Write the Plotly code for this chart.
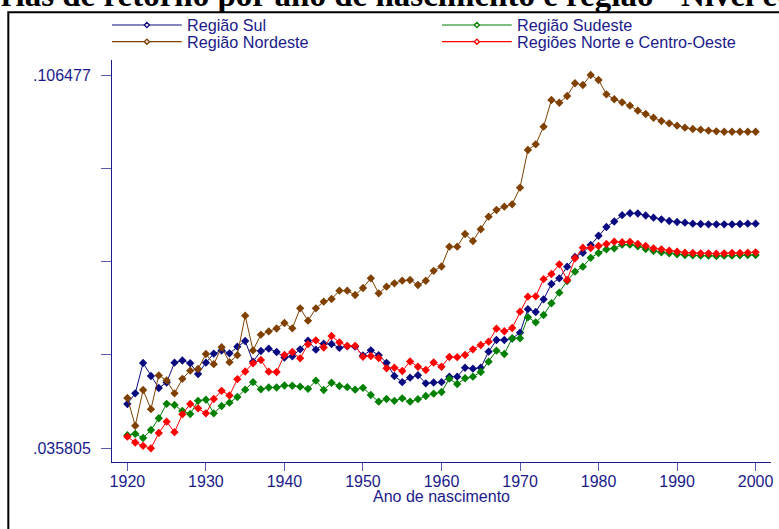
import plotly.graph_objects as go

# Birth cohorts and estimated returns by region
anos = list(range(1920, 2001))

sul = [0.04419, 0.04622, 0.05195, 0.04949, 0.04722, 0.04826, 0.05201, 0.05243, 0.05190, 0.04987,
       0.05201, 0.05372, 0.05432, 0.05379, 0.05504, 0.05612, 0.05220, 0.05423, 0.05466, 0.05404,
       0.05300, 0.05322, 0.05455, 0.05618, 0.05447, 0.05561, 0.05555, 0.05483, 0.05512, 0.05504,
       0.05337, 0.05436, 0.05343, 0.05199, 0.04949, 0.04832, 0.04917, 0.04964, 0.04811, 0.04826,
       0.04832, 0.04936, 0.04936, 0.05106, 0.05088, 0.05106, 0.05409, 0.05631, 0.05631, 0.05659,
       0.05769, 0.06214, 0.06161, 0.06401, 0.06691, 0.06799, 0.07019, 0.07202, 0.07282, 0.07429,
       0.07605, 0.07770, 0.07874, 0.07994, 0.08030, 0.08026, 0.07988, 0.07946, 0.07916, 0.07884,
       0.07865, 0.07852, 0.07833, 0.07827, 0.07821, 0.07821, 0.07821, 0.07821, 0.07827, 0.07833,
       0.07833]

sudeste = [0.03829, 0.03855, 0.03776, 0.03927, 0.04149, 0.04423, 0.04400, 0.04287, 0.04230, 0.04480,
           0.04501, 0.04243, 0.04381, 0.04444, 0.04552, 0.04690, 0.04832, 0.04698, 0.04732, 0.04732,
           0.04769, 0.04764, 0.04747, 0.04707, 0.04860, 0.04684, 0.04822, 0.04760, 0.04737, 0.04690,
           0.04726, 0.04590, 0.04463, 0.04514, 0.04480, 0.04527, 0.04463, 0.04510, 0.04571, 0.04614,
           0.04646, 0.04898, 0.04798, 0.04906, 0.04936, 0.05025, 0.05220, 0.05428, 0.05366, 0.05663,
           0.05663, 0.06061, 0.05966, 0.06104, 0.06326, 0.06526, 0.06748, 0.06924, 0.07019, 0.07187,
           0.07278, 0.07348, 0.07367, 0.07435, 0.07435, 0.07405, 0.07354, 0.07316, 0.07291, 0.07272,
           0.07253, 0.07240, 0.07234, 0.07227, 0.07227, 0.07221, 0.07227, 0.07227, 0.07234, 0.07240,
           0.07240]

nordeste = [0.04533, 0.04008, 0.04684, 0.04321, 0.04961, 0.04866, 0.04622, 0.04896, 0.05050, 0.05082,
            0.05366, 0.05173, 0.05493, 0.05211, 0.05343, 0.06091, 0.05434, 0.05731, 0.05794, 0.05849,
            0.05953, 0.05852, 0.06231, 0.05996, 0.06231, 0.06356, 0.06407, 0.06564, 0.06564, 0.06483,
            0.06615, 0.06799, 0.06515, 0.06640, 0.06704, 0.06754, 0.06767, 0.06672, 0.06752, 0.06941,
            0.07022, 0.07397, 0.07397, 0.07638, 0.07505, 0.07727, 0.07965, 0.08092, 0.08155, 0.08200,
            0.08514, 0.09228, 0.09336, 0.09669, 0.10175, 0.10123, 0.10250, 0.10491, 0.10459, 0.106477,
            0.10553, 0.10282, 0.10188, 0.10131, 0.10067, 0.09972, 0.09910, 0.09839, 0.09777, 0.09733,
            0.09688, 0.09650, 0.09626, 0.09612, 0.09593, 0.09582, 0.09574, 0.09574, 0.09574, 0.09574,
            0.09574]

norte_co = [0.03800, 0.03690, 0.03628, 0.035805, 0.03870, 0.04084, 0.03885, 0.04224, 0.04419, 0.04338,
            0.04243, 0.04514, 0.04669, 0.04580, 0.04889, 0.05035, 0.05190, 0.05252, 0.05031, 0.05025,
            0.05347, 0.05404, 0.05284, 0.05551, 0.05625, 0.05489, 0.05707, 0.05587, 0.05517, 0.05521,
            0.05313, 0.05328, 0.05290, 0.05095, 0.05106, 0.05044, 0.05224, 0.05125, 0.05063, 0.05205,
            0.05125, 0.05309, 0.05305, 0.05347, 0.05455, 0.05536, 0.05599, 0.05845, 0.05796, 0.05858,
            0.06167, 0.06451, 0.06458, 0.06782, 0.06880, 0.07064, 0.06767, 0.07178, 0.07378, 0.07373,
            0.07411, 0.07448, 0.07492, 0.07481, 0.07490, 0.07452, 0.07411, 0.07367, 0.07348, 0.07322,
            0.07303, 0.07284, 0.07278, 0.07272, 0.07272, 0.07265, 0.07272, 0.07278, 0.07278, 0.07284,
            0.07291]

series_names = ["Região Sul", "Região Sudeste", "Região Nordeste", "Regiões Norte e Centro-Oeste"]
series_values = [sul, sudeste, nordeste, norte_co]
series_colors = ["#0a0a80", "#008000", "#7f4000", "#ff0000"]

y_min, y_max = 0.035805, 0.106477
y_ticks = [y_min + i * (y_max - y_min) / 4 for i in range(5)]
y_ticktext = [".035805", "", "", "", ".106477"]
x_ticks = list(range(1920, 2001, 10))

title_text = "Trajetórias de retorno por ano de nascimento e região - Nível educacional"
x_title = "Ano de nascimento"

NAVY = "#1a1a8a"
W, H = 779, 529
ML, MR, MT, MB = 112, 6, 60, 67
PW, PH = W - ML - MR, H - MT - MB


def px_x(p):
    return (p - ML) / PW


def px_y(p):
    return (H - MB - p) / PH


fig = go.Figure()
for name, vals, col in zip(series_names, series_values, series_colors):
    fig.add_trace(go.Scatter(
        x=anos, y=vals, name=name, mode="lines+markers",
        line=dict(color=col, width=1),
        marker=dict(symbol="diamond", size=6.4, color=col, line=dict(width=0)),
        showlegend=False,
    ))

shapes = []
annotations = []

# outer frame of the graph region
shapes.append(dict(type="rect", xref="paper", yref="paper",
                   x0=px_x(8), x1=px_x(800), y0=px_y(560), y1=px_y(12.3),
                   line=dict(color="black", width=2), fillcolor="rgba(0,0,0,0)"))

# two-column key: (x of sample start, row y)
key_pos = [(112, 25), (443, 25), (112, 41.7), (443, 41.7)]
for (kx, ky), name, col in zip(key_pos, series_names, series_colors):
    shapes.append(dict(type="line", xref="paper", yref="paper",
                       x0=px_x(kx), x1=px_x(kx + 70), y0=px_y(ky), y1=px_y(ky),
                       line=dict(color=col, width=1.2)))
    cx, r = kx + 35, 2.6
    path = (f"M {px_x(cx - r)} {px_y(ky)} L {px_x(cx)} {px_y(ky - r)} "
            f"L {px_x(cx + r)} {px_y(ky)} L {px_x(cx)} {px_y(ky + r)} Z")
    shapes.append(dict(type="path", xref="paper", yref="paper", path=path,
                       line=dict(color=col, width=1.3), fillcolor="#f0e8e0"))
    annotations.append(dict(xref="paper", yref="paper", x=px_x(kx + 73), y=px_y(ky),
                            xanchor="left", yanchor="middle", showarrow=False,
                            text=name, font=dict(family="Liberation Sans", size=16.2, color=NAVY)))

annotations.append(dict(xref="paper", yref="paper", x=px_x(-106), y=px_y(15.5),
                        xanchor="left", yanchor="bottom", showarrow=False,
                        text=f"<b>{title_text}</b>",
                        font=dict(family="Liberation Serif", size=33, color="black")))

annotations.append(dict(xref="x", yref="paper", x=1960, y=px_y(496.7),
                        xanchor="center", yanchor="middle", showarrow=False,
                        text=x_title, font=dict(family="Liberation Sans", size=16, color=NAVY)))

fig.update_layout(
    width=W, height=H,
    margin=dict(l=ML, r=MR, t=MT, b=MB),
    paper_bgcolor="white", plot_bgcolor="white",
    shapes=shapes, annotations=annotations,
    showlegend=False,
    xaxis=dict(range=[1918.04, 2001.96], tickvals=x_ticks, ticks="outside", ticklen=8,
               tickcolor="#5b5bab", tickwidth=1, showline=True, linecolor=NAVY, linewidth=1,
               showgrid=False, zeroline=False, ticklabelstandoff=-3,
               tickfont=dict(family="Liberation Sans", size=16, color=NAVY)),
    yaxis=dict(range=[0.033211, 0.109317], tickvals=y_ticks, ticktext=y_ticktext,
               ticks="outside", ticklen=10, tickcolor="#5b5bab", tickwidth=1,
               showline=True, linecolor=NAVY, linewidth=1, showgrid=False, zeroline=False,
               ticklabelstandoff=7,
               tickfont=dict(family="Liberation Sans", size=16, color=NAVY)),
)

fig.write_html("out.html")
